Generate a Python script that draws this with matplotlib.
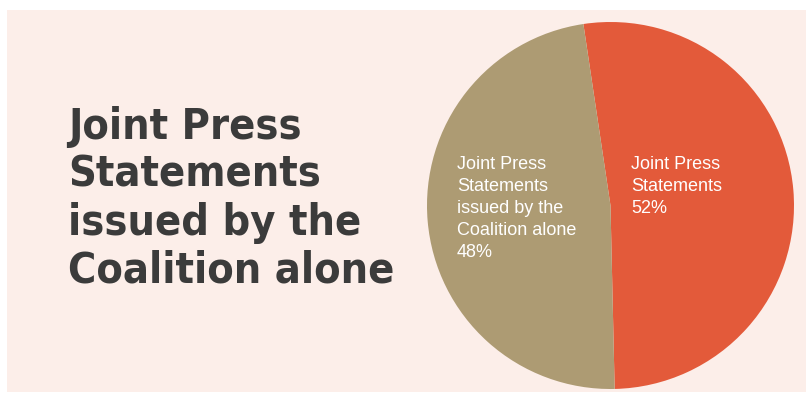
import matplotlib
matplotlib.use('Agg')
import matplotlib.pyplot as plt
from matplotlib.patches import Rectangle

# data
labels = ['Joint Press\nStatements', 'Joint Press\nStatements\nissued by the\nCoalition alone']
shares = [52, 48]
colors = ['#E35A3A', '#AD9B73']
title = 'Joint Press\nStatements\nissued by the\nCoalition alone'

W, H = 807, 393
fig = plt.figure(figsize=(W / 100, H / 100), dpi=100)
fig.patch.set_facecolor('white')

# pink panel behind everything
fig.patches.append(Rectangle((7 / W, 1 - 392 / H), 799 / W, 382 / H,
                             transform=fig.transFigure, facecolor='#FCEEE9',
                             edgecolor='none', zorder=-5))

ax = fig.add_axes([427 / W, 1 - 389 / H, 367 / W, 367 / H], zorder=2)
ax.patch.set_visible(False)
ax.pie(shares, colors=colors, startangle=98.5, counterclock=False,
       wedgeprops={'linewidth': 0})
ax.set_xlim(-1, 1)
ax.set_ylim(-1, 1)
ax.set_aspect('equal')
ax.axis('off')

fig.text(68 / W, 1 - 106 / H, title, ha='left', va='top', fontsize=31,
         fontweight='bold', fontstretch='condensed', color='#3B3B3B',
         linespacing=1.18, family=['DejaVu Sans'], zorder=3)

label_x = [631, 457]
for lab, share, x in zip(labels, shares, label_x):
    fig.text(x / W, 1 - 156 / H, f'{lab}\n{share}%', ha='left', va='top',
             fontsize=13, color='white', linespacing=1.38,
             family=['Liberation Sans', 'DejaVu Sans'], zorder=3)

fig.savefig('out.png', dpi=100, facecolor=fig.get_facecolor())
